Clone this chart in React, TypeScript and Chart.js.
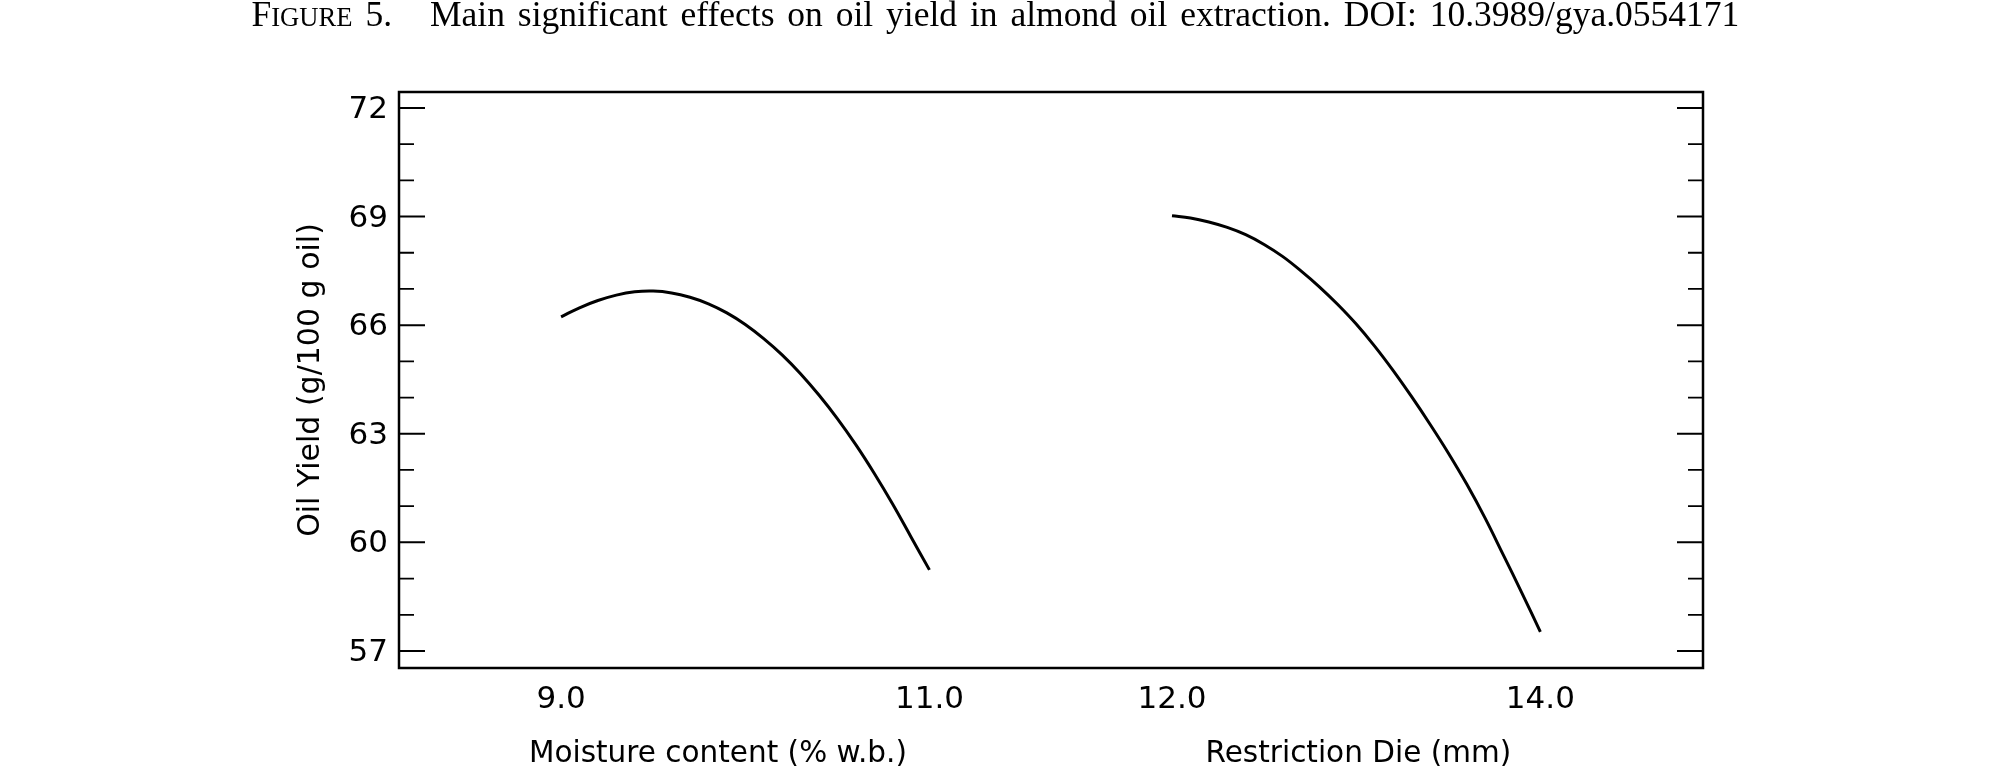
import { useEffect, useRef } from "react";
import { Chart, registerables, type ChartConfiguration, type Plugin } from "chart.js";

Chart.register(...registerables);

// moisture content panel (% w.b.)
const moistureX = [9.0, 9.1, 9.2, 9.3, 9.4, 9.5, 9.6, 9.7, 9.8, 9.9, 10.0, 10.1, 10.2, 10.3, 10.4, 10.5, 10.6, 10.7, 10.8, 10.9, 11.0];
const moistureYield = [66.23, 66.48, 66.68, 66.83, 66.92, 66.94, 66.89, 66.77, 66.59, 66.34, 66.02, 65.63, 65.18, 64.66, 64.07, 63.42, 62.7, 61.91, 61.06, 60.15, 59.24];

// restriction die panel (mm)
const dieX = [12.0, 12.1, 12.2, 12.3, 12.4, 12.5, 12.6, 12.7, 12.8, 12.9, 13.0, 13.1, 13.2, 13.3, 13.4, 13.5, 13.6, 13.7, 13.8, 13.9, 14.0];
const dieYield = [69.02, 68.96, 68.85, 68.7, 68.5, 68.23, 67.9, 67.5, 67.06, 66.57, 66.03, 65.42, 64.75, 64.03, 63.27, 62.47, 61.61, 60.67, 59.64, 58.6, 57.53];

const moistureTicks = [9.0, 11.0];
const dieTicks = [12.0, 14.0];
const yMajorTicks = [57, 60, 63, 66, 69, 72];
const yMinorTicks = [58, 59, 61, 62, 64, 65, 67, 68, 70, 71];
const xTitles = ["Moisture content (% w.b.)", "Restriction Die (mm)"];
const yTitle = "Oil Yield (g/100 g oil)";

// both factors share one linear axis, the second panel is shifted right
const DIE_SHIFT = 0.317;
const X_MIN = 8.12;
const X_MAX = 15.2;
const Y_MIN = 56.53;
const Y_MAX = 72.44;

const SANS = '"DejaVu Sans", sans-serif';

const xTickItems = [
  ...moistureTicks.map((v) => ({ pos: v, label: v.toFixed(1) })),
  ...dieTicks.map((v) => ({ pos: v + DIE_SHIFT, label: v.toFixed(1) }))
];

const framePlugin: Plugin<"line"> = {
  id: "frame",
  afterDraw(chart) {
    const { ctx, chartArea } = chart;
    const { left, right, top, bottom } = chartArea;
    const width = right - left;
    const y = chart.scales.y;

    ctx.save();
    ctx.strokeStyle = "#000";
    ctx.lineWidth = 2.5;
    ctx.strokeRect(left, top, width, bottom - top);

    const drawTick = (value: number, len: number, lw: number) => {
      const py = y.getPixelForValue(value);
      ctx.lineWidth = lw;
      ctx.beginPath();
      ctx.moveTo(left, py);
      ctx.lineTo(left + len, py);
      ctx.moveTo(right - len, py);
      ctx.lineTo(right, py);
      ctx.stroke();
    };
    yMajorTicks.forEach((v) => drawTick(v, 26, 2));
    yMinorTicks.forEach((v) => drawTick(v, 15, 1.8));

    ctx.fillStyle = "#000";
    ctx.font = `29.5px ${SANS}`;
    ctx.textAlign = "center";
    ctx.textBaseline = "middle";
    ctx.fillText(xTitles[0], left + width * 0.2446, bottom + 86);
    ctx.fillText(xTitles[1], left + width * 0.7357, bottom + 86);
    ctx.restore();
  }
};

function OilYieldChart() {
  const canvasRef = useRef<HTMLCanvasElement | null>(null);
  const chartRef = useRef<Chart<"line"> | null>(null);

  useEffect(() => {
    const canvas = canvasRef.current;
    if (!canvas) {
      return;
    }

    const config: ChartConfiguration<"line"> = {
      type: "line",
      data: {
        datasets: [
          {
            label: xTitles[0],
            data: moistureX.map((x, i) => ({ x, y: moistureYield[i] })),
            borderColor: "#000",
            borderWidth: 3,
            pointRadius: 0,
            tension: 0.4,
            fill: false
          },
          {
            label: xTitles[1],
            data: dieX.map((x, i) => ({ x: x + DIE_SHIFT, y: dieYield[i] })),
            borderColor: "#000",
            borderWidth: 3,
            pointRadius: 0,
            tension: 0.4,
            fill: false
          }
        ]
      },
      options: {
        responsive: true,
        maintainAspectRatio: false,
        animation: false,
        layout: {
          padding: { left: 0, right: 293, top: 92, bottom: 0 }
        },
        plugins: {
          legend: { display: false },
          tooltip: { enabled: false },
          title: { display: false }
        },
        scales: {
          x: {
            type: "linear",
            min: X_MIN,
            max: X_MAX,
            grid: { display: false, drawTicks: false },
            border: { display: false },
            afterBuildTicks: (scale) => {
              scale.ticks = xTickItems.map((t) => ({ value: t.pos }));
            },
            afterFit: (scale) => {
              scale.height = 104;
            },
            ticks: {
              autoSkip: false,
              maxRotation: 0,
              padding: 13,
              color: "#000",
              font: { family: SANS, size: 31 },
              callback: (value) => {
                const item = xTickItems.find((t) => Math.abs(t.pos - Number(value)) < 1e-6);
                return item ? item.label : "";
              }
            }
          },
          y: {
            type: "linear",
            min: Y_MIN,
            max: Y_MAX,
            grid: { display: false, drawTicks: false },
            border: { display: false },
            afterBuildTicks: (scale) => {
              scale.ticks = yMajorTicks.map((v) => ({ value: v }));
            },
            afterFit: (scale) => {
              scale.width = 399;
            },
            ticks: {
              autoSkip: false,
              padding: 11,
              labelOffset: 2,
              color: "#000",
              font: { family: SANS, size: 31 },
              callback: (value) => String(value)
            },
            title: {
              display: true,
              text: yTitle,
              color: "#000",
              font: { family: SANS, size: 30 },
              padding: { top: 293, bottom: 0 }
            }
          }
        }
      },
      plugins: [framePlugin]
    };

    chartRef.current?.destroy();
    chartRef.current = new Chart(canvas, config);

    return () => {
      chartRef.current?.destroy();
      chartRef.current = null;
    };
  }, []);

  return (
    <div style={{ position: "absolute", left: 0, top: 0, width: 1996, height: 772 }}>
      <canvas ref={canvasRef} />
    </div>
  );
}

export default function App() {
  return (
    <div>
      <OilYieldChart />
      <div
        style={{
          position: "absolute",
          left: 251.5,
          top: -6,
          whiteSpace: "nowrap",
          fontFamily: '"Liberation Serif", serif',
          fontSize: 35.5,
          lineHeight: "40px",
          color: "#000",
          wordSpacing: 4
        }}
      >
        <span>F</span>
        <span style={{ fontSize: 26.6 }}>IGURE</span>
        <span> 5.</span>
        <span style={{ display: "inline-block", width: 38 }} />
        <span>Main significant effects on oil yield in almond oil extraction. DOI: 10.3989/gya.0554171</span>
      </div>
    </div>
  );
}
